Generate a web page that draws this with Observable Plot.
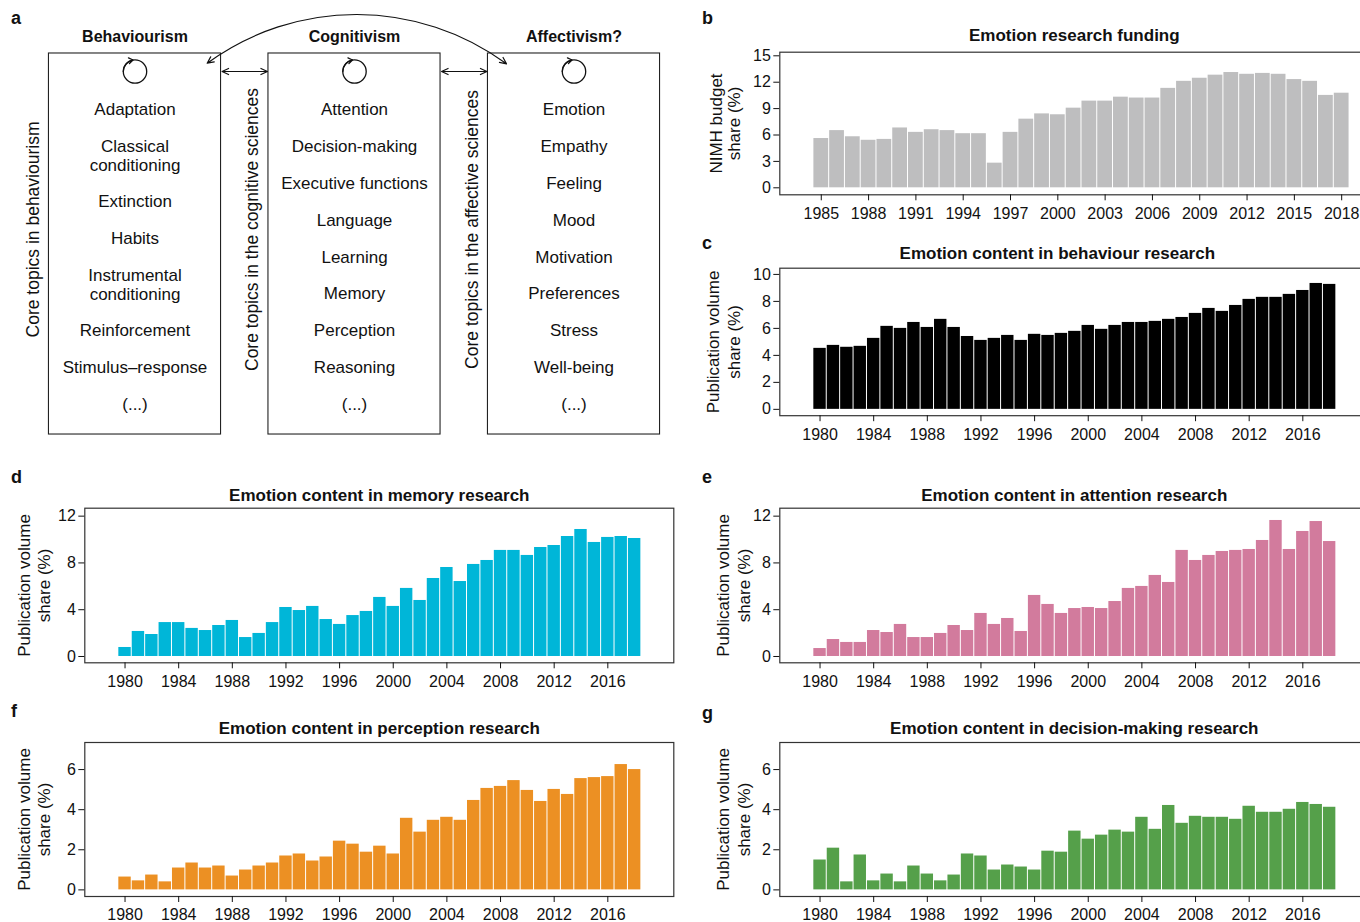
<!DOCTYPE html>
<html><head><meta charset="utf-8">
<script src="https://cdn.jsdelivr.net/npm/d3@7"></script>
<script src="https://cdn.jsdelivr.net/npm/@observablehq/plot@0.6"></script>
<style>
html,body{margin:0;padding:0;background:#fff;}
#fig{position:relative;width:1360px;height:922px;overflow:hidden;background:#fff;font-family:'Liberation Sans',Arial,sans-serif;color:#111;}
.panel{position:absolute;}
.letter{position:absolute;font-weight:bold;font-size:18px;line-height:1;transform:translateY(-50%);}
</style></head><body><div id="fig"></div>
<script>
// ---------- Panel a content ----------
const schools = ["Behaviourism", "Cognitivism", "Affectivism?"];
const sideLabels = ["Core topics in behaviourism", "Core topics in the cognitive sciences", "Core topics in the affective sciences"];
const behaviourismTopics = ["Adaptation", "Classical\nconditioning", "Extinction", "Habits", "Instrumental\nconditioning", "Reinforcement", "Stimulus–response", "(...)"];
const cognitivismTopics = ["Attention", "Decision-making", "Executive functions", "Language", "Learning", "Memory", "Perception", "Reasoning", "(...)"];
const affectivismTopics = ["Emotion", "Empathy", "Feeling", "Mood", "Motivation", "Preferences", "Stress", "Well-being", "(...)"];

// ---------- Panels b–g data ----------
const fundingYears = [1985,1986,1987,1988,1989,1990,1991,1992,1993,1994,1995,1996,1997,1998,1999,2000,2001,2002,2003,2004,2005,2006,2007,2008,2009,2010,2011,2012,2013,2014,2015,2016,2017,2018];
const pubYears = [1980,1981,1982,1983,1984,1985,1986,1987,1988,1989,1990,1991,1992,1993,1994,1995,1996,1997,1998,1999,2000,2001,2002,2003,2004,2005,2006,2007,2008,2009,2010,2011,2012,2013,2014,2015,2016,2017,2018];

const fundingShare = [5.6,6.5,5.8,5.4,5.5,6.8,6.3,6.6,6.5,6.15,6.15,2.8,6.3,7.8,8.4,8.3,9.05,9.85,9.85,10.3,10.2,10.2,11.3,12.1,12.45,12.8,13.1,12.9,13.0,12.9,12.3,12.1,10.5,10.75];
const behaviourShare = [4.52,4.74,4.6,4.67,5.26,6.15,6.0,6.44,6.07,6.67, 6.07,5.4,5.11,5.26,5.48,5.11,5.56,5.48,5.63,5.78, 6.22,5.93,6.22,6.44,6.44,6.52,6.67,6.81,7.11,7.48, 7.26,7.7,8.15,8.3,8.3,8.52,8.81,9.33,9.26];
const memoryShare = [0.77,2.14,1.88,2.9,2.9,2.4,2.22,2.65,3.08,1.62, 1.97,2.9,4.19,3.93,4.28,3.16,2.74,3.5,3.85,5.05, 4.28,5.82,4.79,6.67,7.61,6.41,7.87,8.21,9.07,9.07, 8.64,9.32,9.49,10.26,10.86,9.75,10.18,10.26,10.09];
const attentionShare = [0.68,1.45,1.2,1.2,2.22,2.05,2.74,1.62,1.62,1.97, 2.65,2.22,3.68,2.74,3.25,2.14,5.22,4.45,3.68,4.1, 4.19,4.1,4.7,5.82,5.99,6.93,6.33,9.07,8.21,8.64, 8.98,9.07,9.15,9.92,11.63,9.15,10.69,11.54,9.83];
const perceptionShare = [0.64,0.45,0.74,0.4,1.09,1.34,1.09,1.19,0.69,0.99, 1.19,1.34,1.69,1.79,1.44,1.64,2.43,2.28,1.88,2.18, 1.79,3.57,2.88,3.47,3.62,3.47,4.46,5.06,5.16,5.45, 4.96,4.41,5.01,4.76,5.55,5.6,5.65,6.25,6.0];
const decisionShare = [1.49,2.08,0.4,1.74,0.45,0.79,0.4,1.19,0.79,0.45, 0.74,1.79,1.69,0.99,1.24,1.14,0.99,1.93,1.88,2.93, 2.53,2.73,2.98,2.88,3.62,3.02,4.21,3.32,3.67,3.62, 3.62,3.52,4.17,3.87,3.87,4.02,4.36,4.26,4.12];

const fundingTicks = [1985,1988,1991,1994,1997,2000,2003,2006,2009,2012,2015,2018];
const pubTicks = [1980,1984,1988,1992,1996,2000,2004,2008,2012,2016];
const fundingYTicks = [0,3,6,9,12,15];
const behaviourYTicks = [0,2,4,6,8,10];
const twelveYTicks = [0,4,8,12];
const sixYTicks = [0,2,4,6];

const titles = {
  b: "Emotion research funding",
  c: "Emotion content in behaviour research",
  d: "Emotion content in memory research",
  e: "Emotion content in attention research",
  f: "Emotion content in perception research",
  g: "Emotion content in decision-making research"
};
const yLabels = {
  b: "NIMH budget\nshare (%)",
  pub: "Publication volume\nshare (%)"
};
const colors = {b: "#bebebf", c: "#000000", d: "#00b6d8", e: "#d27b9d", f: "#ec9023", g: "#55a04a"};

const FONT = "'Liberation Sans', Arial, sans-serif";
const fig = document.getElementById("fig");

function place(node, left, top, width) {
  const div = document.createElement("div");
  div.className = "panel";
  div.style.left = left + "px";
  div.style.top = top + "px";
  div.style.width = width + "px";
  div.appendChild(node);
  fig.appendChild(div);
}

// ---------- Panel a ----------
function layoutRows(list) {
  const pos = [];
  let y = 0, prev = 1;
  list.forEach((t, i) => {
    const lines = t.split("\n").length;
    if (i > 0) y += 1 + 0.25 * (prev - 1) + 0.25 * (lines - 1);
    pos.push(y);
    prev = lines;
  });
  return pos;
}
const topicLists = [behaviourismTopics, cognitivismTopics, affectivismTopics];
const topicData = topicLists.flatMap((list, col) => {
  const rows = layoutRows(list);
  return list.map((t, i) => ({col, row: rows[i], t}));
});
const cols = schools.map((name, i) => ({i, name, side: sideLabels[i]}));

const PX = 219.5, X0 = 134.5, RY = 36.8, Y0 = 109, AW = 690, AH = 445;
const BOXW = 0.392, BOXTOP = -1.522, BOXBOT = 8.832, TITLEY = -1.984, LOOPY = -1.033, SIDEY = 3.26;
const LR = 11.7; // loop radius (px)

const panelA = Plot.plot({
  width: AW, height: AH, margin: 0,
  style: {fontFamily: FONT, color: "#111", background: "transparent", maxWidth: "none", overflow: "visible"},
  x: {domain: [-X0 / PX, (AW - X0) / PX], range: [0, AW], axis: null},
  y: {domain: [-Y0 / RY, (AH - Y0) / RY], range: [0, AH], axis: null},
  marks: [
    Plot.rect(cols, {x1: d => d.i - BOXW, x2: d => d.i + BOXW, y1: BOXTOP, y2: BOXBOT, fill: "none", stroke: "#222", strokeWidth: 1.1}),
    Plot.text(cols, {x: "i", y: TITLEY, text: "name", fontWeight: "bold", fontSize: 16}),
    Plot.dot(cols, {x: "i", y: LOOPY, r: LR, stroke: "#111", strokeWidth: 1.3}),
    Plot.arrow(cols, {x1: d => d.i - LR / PX, y1: LOOPY, x2: d => d.i - 2 / PX, y2: LOOPY - 11.5 / RY, bend: 40, headLength: 9, headAngle: 70, strokeWidth: 1.3, stroke: "#111"}),
    // double arrows between boxes
    Plot.arrow([0, 1], {x1: d => d + 0.5, x2: d => d + BOXW + 1 / PX, y1: LOOPY, y2: LOOPY, headLength: 9, headAngle: 50, strokeWidth: 1.2, stroke: "#111"}),
    Plot.arrow([0, 1], {x1: d => d + 0.5, x2: d => d + 1 - BOXW - 1 / PX, y1: LOOPY, y2: LOOPY, headLength: 9, headAngle: 50, strokeWidth: 1.2, stroke: "#111"}),
    // arc from behaviourism to affectivism
    Plot.arrow([{x1: 1.0105, y1: -2.582, x2: 0.3289, y2: -1.258}], {x1: "x1", y1: "y1", x2: "x2", y2: "y2", bend: -18.1, headLength: 9, headAngle: 50, strokeWidth: 1.2, stroke: "#111"}),
    Plot.arrow([{x1: 1.0105, y1: -2.582, x2: 1.6925, y2: -1.242}], {x1: "x1", y1: "y1", x2: "x2", y2: "y2", bend: 18.1, headLength: 9, headAngle: 50, strokeWidth: 1.2, stroke: "#111"}),
    Plot.text(topicData, {x: "col", y: "row", text: "t", fontSize: 17, lineHeight: 1.1, lineAnchor: "middle"}),
    Plot.text(cols, {x: d => d.i - 0.465, y: SIDEY, text: "side", rotate: -90, fontSize: 17.5})
  ]
});
place(panelA, 0, 0, AW);

// ---------- Bar charts ----------
function barChart(o) {
  const data = o.years.map((year, i) => ({year, v: o.values[i]}));
  return Plot.plot({
    width: o.width, height: o.height,
    marginTop: o.mt, marginBottom: o.mb, marginLeft: o.ml, marginRight: o.mr,
    style: {fontFamily: FONT, fontSize: "16px", color: "#111", background: "transparent", maxWidth: "none", overflow: "visible"},
    x: {domain: o.xDomain, label: null},
    y: {domain: o.yDomain, label: null},
    marks: [
      Plot.rect(data, {x1: d => d.year - 0.5, x2: d => d.year + 0.5, y1: 0, y2: "v", fill: o.fill, insetLeft: 0.5, insetRight: 0.5}),
      Plot.frame({stroke: "#333", strokeWidth: 1.2}),
      Plot.axisX({ticks: o.xTicks, tickFormat: d => String(d), tickSize: 6, tickPadding: 6.5, fontSize: 16, label: null}),
      Plot.axisY({ticks: o.yTicks, tickSize: 6, tickPadding: 3, fontSize: 16, label: null}),
      Plot.text([o.title], {frameAnchor: "top", dy: o.titleDy, dx: o.titleDx || 0, fontWeight: "bold", fontSize: 17, lineAnchor: "middle"}),
      Plot.text([o.ylabel], {frameAnchor: "left", dx: o.labelDx, rotate: -90, textAnchor: "middle", lineAnchor: "middle", lineHeight: o.labelLH, fontSize: 17})
    ]
  });
}

const W = 676, ML = 84.3, MR = 2.7;
const pubDomain = [1977.0, 2020.92];

place(barChart({years: fundingYears, values: fundingShare, fill: colors.b, xDomain: [1982.37, 2019.72], xTicks: fundingTicks,
  yDomain: [-0.795, 15.41], yTicks: fundingYTicks, title: titles.b, titleDy: -16.7, ylabel: yLabels.b, labelDx: -55, labelLH: 1.08,
  width: W, height: 208, mt: 31.7, mb: 33.7, ml: ML, mr: MR}), 695, 20, W);

place(barChart({years: pubYears, values: behaviourShare, fill: colors.c, xDomain: pubDomain, xTicks: pubTicks,
  yDomain: [-0.47, 10.46], yTicks: behaviourYTicks, title: titles.c, titleDy: -14.7, titleDx: -17, ylabel: yLabels.pub, labelDx: -57, labelLH: 1.22,
  width: W, height: 214, mt: 31.7, mb: 34.8, ml: ML, mr: MR}), 695, 236, W);

place(barChart({years: pubYears, values: memoryShare, fill: colors.d, xDomain: pubDomain, xTicks: pubTicks,
  yDomain: [-0.54, 12.68], yTicks: twelveYTicks, title: titles.d, titleDy: -12.7, ylabel: yLabels.pub, labelDx: -51, labelLH: 1.18,
  width: W, height: 227, mt: 37.7, mb: 34.7, ml: ML, mr: MR}), 0, 470, W);

place(barChart({years: pubYears, values: attentionShare, fill: colors.e, xDomain: pubDomain, xTicks: pubTicks,
  yDomain: [-0.54, 12.68], yTicks: twelveYTicks, title: titles.e, titleDy: -12.7, ylabel: yLabels.pub, labelDx: -47, labelLH: 1.22,
  width: W, height: 227, mt: 37.7, mb: 34.7, ml: ML, mr: MR}), 695, 470, W);

place(barChart({years: pubYears, values: perceptionShare, fill: colors.f, xDomain: pubDomain, xTicks: pubTicks,
  yDomain: [-0.33, 7.35], yTicks: sixYTicks, title: titles.f, titleDy: -14, ylabel: yLabels.pub, labelDx: -51, labelLH: 1.18,
  width: W, height: 217, mt: 37, mb: 26, ml: ML, mr: MR}), 0, 705, W);

place(barChart({years: pubYears, values: decisionShare, fill: colors.g, xDomain: pubDomain, xTicks: pubTicks,
  yDomain: [-0.33, 7.35], yTicks: sixYTicks, title: titles.g, titleDy: -14, ylabel: yLabels.pub, labelDx: -47, labelLH: 1.22,
  width: W, height: 217, mt: 37, mb: 26, ml: ML, mr: MR}), 695, 705, W);

// ---------- Panel letters ----------
const letters = [["a", 11, 18], ["b", 702, 18], ["c", 702, 243], ["d", 11, 477], ["e", 702, 477], ["f", 11, 711], ["g", 702, 713]];
for (const [t, x, y] of letters) {
  const d = document.createElement("div");
  d.className = "letter";
  d.textContent = t;
  d.style.left = x + "px";
  d.style.top = y + "px";
  fig.appendChild(d);
}
</script></body></html>
